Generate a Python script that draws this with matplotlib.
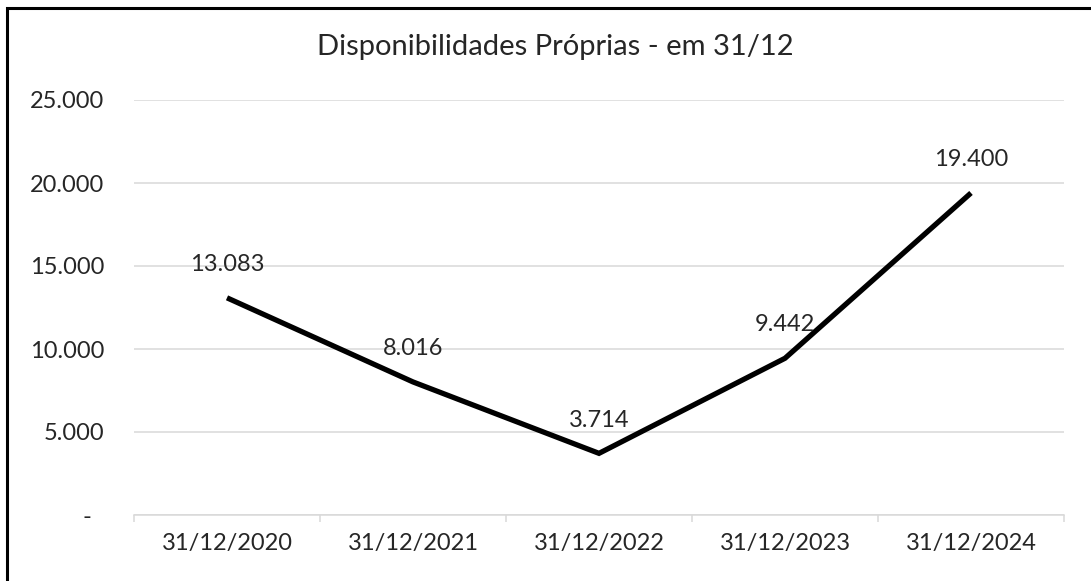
#!/usr/bin/env python3
"""Disponibilidades Proprias - line chart in Excel style."""

import matplotlib
matplotlib.use("Agg")
import matplotlib.pyplot as plt
from matplotlib.patches import Rectangle
from matplotlib.ticker import FixedLocator, FuncFormatter

# data
dates = ["31/12/2020", "31/12/2021", "31/12/2022", "31/12/2023", "31/12/2024"]
values = [13083, 8016, 3714, 9442, 19400]
y_ticks = [0, 5000, 10000, 15000, 20000, 25000]

TEXT = "#262626"
GRID = "#d9d9d9"

plt.rcParams["font.family"] = ["Lato", "DejaVu Sans"]


def fmt_pt(v, _pos=None):
    if v == 0:
        return "-  "
    return f"{v:,.0f}".replace(",", ".")


W, H = 1091, 581
fig = plt.figure(figsize=(W / 100, H / 100), dpi=100)
ax = fig.add_axes([134 / W, 1 - 515 / H, (1064 - 134) / W, (515 - 100) / H])

x = list(range(len(dates)))
ax.plot(x, values, color="black", linewidth=3.8, solid_joinstyle="miter",
        solid_capstyle="butt", zorder=3)

for xi, v in zip(x, values):
    ax.annotate(fmt_pt(v), (xi, v), xytext=(0, 24), textcoords="offset points",
                ha="center", va="center", fontsize=17, color=TEXT)

ax.set_xlim(-0.5, len(dates) - 0.5)
ax.set_ylim(0, 25000)
ax.set_yticks(y_ticks)
ax.yaxis.set_major_formatter(FuncFormatter(fmt_pt))
ax.grid(axis="y", color=GRID, linewidth=1.1)
ax.set_axisbelow(True)

ax.set_xticks(x)
ax.set_xticklabels(dates)
ax.xaxis.set_minor_locator(FixedLocator([i - 0.5 for i in range(len(dates) + 1)]))
ax.tick_params(axis="x", which="major", length=0, pad=13, labelsize=17, labelcolor=TEXT)
ax.tick_params(axis="x", which="minor", length=5, width=1.1, color=GRID)
ax.tick_params(axis="y", length=0, pad=21.5, labelsize=17, labelcolor=TEXT)

for side in ("top", "right", "left"):
    ax.spines[side].set_visible(False)
ax.spines["bottom"].set_color(GRID)
ax.spines["bottom"].set_linewidth(1.1)

fig.text(555 / W, 1 - 47 / H, "Disponibilidades Próprias - em 31/12",
         ha="center", va="center", fontsize=21, color=TEXT)

# outer chart border (cropped at right and bottom)
fig.patches.append(Rectangle((7 / W, -0.1), 1.2, 1.1 - 8 / H, transform=fig.transFigure,
                             fill=False, edgecolor="black", linewidth=2.2))

fig.savefig("out.png", dpi=100, facecolor="white")
